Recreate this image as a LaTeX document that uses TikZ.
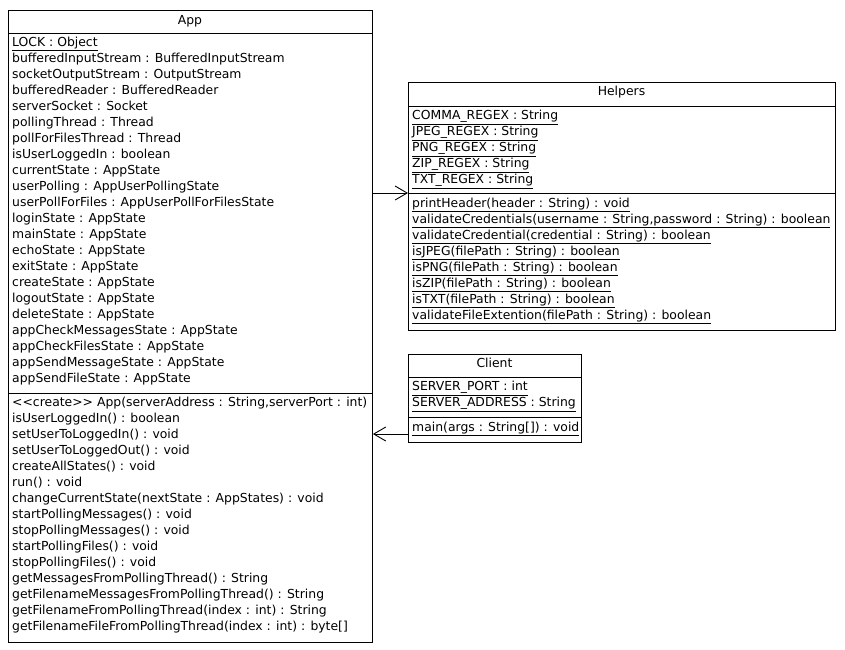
\documentclass[tikz,border=0pt]{standalone}
\usepackage{fontspec}
\setmainfont{DejaVu Sans}
\usetikzlibrary{arrows.meta}
\begin{document}
\begin{tikzpicture}[x=1pt,y=-1pt,
    every node/.style={font=\fontsize{12.4}{16}\selectfont},
    classbox/.style={draw,line width=0.9pt,anchor=north west,inner sep=0pt},
    member/.style={anchor=west,inner sep=0pt,text height=9pt,text depth=3pt},
    classname/.style={inner sep=0pt,text height=9pt,text depth=3pt},
    sepline/.style={line width=0.9pt},
    uses/.style={draw,line width=0.9pt,-{Straight Barb[length=12pt,width=14pt]}}]
  \useasboundingbox (0,0) rectangle (845,649);
  \def \AppAttrs{
    \underline{LOCK : Object},
    bufferedInputStream : BufferedInputStream,
    socketOutputStream : OutputStream,
    bufferedReader : BufferedReader,
    serverSocket : Socket,
    pollingThread : Thread,
    pollForFilesThread : Thread,
    isUserLoggedIn : boolean,
    currentState : AppState,
    userPolling : AppUserPollingState,
    userPollForFiles : AppUserPollForFilesState,
    loginState : AppState,
    mainState : AppState,
    echoState : AppState,
    exitState : AppState,
    createState : AppState,
    logoutState : AppState,
    deleteState : AppState,
    appCheckMessagesState : AppState,
    appCheckFilesState : AppState,
    appSendMessageState : AppState,
    appSendFileState : AppState}
  \def \AppOps{
    {<{}<create>{}> App(serverAddress : String,serverPort : int)},
    isUserLoggedIn() : boolean,
    setUserToLoggedIn() : void,
    setUserToLoggedOut() : void,
    createAllStates() : void,
    run() : void,
    changeCurrentState(nextState : AppStates) : void,
    startPollingMessages() : void,
    stopPollingMessages() : void,
    startPollingFiles() : void,
    stopPollingFiles() : void,
    getMessagesFromPollingThread() : String,
    getFilenameMessagesFromPollingThread() : String,
    getFilenameFromPollingThread(index : int) : String,
    getFilenameFileFromPollingThread(index : int) : byte[]}
  \def \HelpersAttrs{
    COMMA\_REGEX : String,
    JPEG\_REGEX : String,
    PNG\_REGEX : String,
    ZIP\_REGEX : String,
    TXT\_REGEX : String}
  \def \HelpersOps{
    printHeader(header : String) : void,
    {validateCredentials(username : String,password : String) : boolean},
    validateCredential(credential : String) : boolean,
    isJPEG(filePath : String) : boolean,
    isPNG(filePath : String) : boolean,
    isZIP(filePath : String) : boolean,
    isTXT(filePath : String) : boolean,
    validateFileExtention(filePath : String) : boolean}
  \def \ClientAttrs{
    SERVER\_PORT : int,
    SERVER\_ADDRESS : String}
  % App
  \node[classbox,minimum width=364pt,minimum height=632pt] (app) at (8,10) {};
  \node[classname] (app-name) at (190,21) {App};
  \draw[sepline] (app.west |- 0,33) -- (app.east |- 0,33);
  \draw[sepline] (app.west |- 0,393) -- (app.east |- 0,393);
  \foreach \txt [count=\i] in \AppAttrs{
    \node[member] (app-a\i) at (12, 27.5+16*\i) {\txt};
  }
  \foreach \txt [count=\i] in \AppOps{
    \node[member] (app-o\i) at (12, 387.5+16*\i) {\txt};
  }
  % Helpers
  \node[classbox,minimum width=427pt,minimum height=248pt] (helpers) at (408,82) {};
  \node[classname] (helpers-name) at (621.5,92) {Helpers};
  \draw[sepline] (helpers.west |- 0,106) -- (helpers.east |- 0,106);
  \coordinate (helpers-in) at (408,193);
  \draw[sepline] (helpers-in) -- (helpers.east |- helpers-in);
  \foreach \txt [count=\i] in \HelpersAttrs{
    \node[member] (helpers-a\i) at (412, 100.5+16*\i) {\underline{\txt}};
  }
  \foreach \txt [count=\i] in \HelpersOps{
    \node[member] (helpers-o\i) at (412, 188.5+16*\i) {\underline{\txt}};
  }
  % Client
  \node[classbox,minimum width=173pt,minimum height=88pt] (client) at (408,354) {};
  \node[classname] (client-name) at (494.5,364) {Client};
  \draw[sepline] (client.west |- 0,377) -- (client.east |- 0,377);
  \draw[sepline] (client.west |- 0,417) -- (client.east |- 0,417);
  \foreach \txt [count=\i] in \ClientAttrs{
    \node[member] (client-a\i) at (412, 371.5+16*\i) {\underline{\txt}};
  }
  \node[member] (client-o1) at (412,428) {\underline{main(args : String[]) : void}};
  \coordinate (client-out) at (408,434);
  % dependencies
  \draw[uses] (helpers-in -| app.east) -- (helpers-in);
  \draw[uses] (client-out) -- (client-out -| app.east);
\end{tikzpicture}
\end{document}
